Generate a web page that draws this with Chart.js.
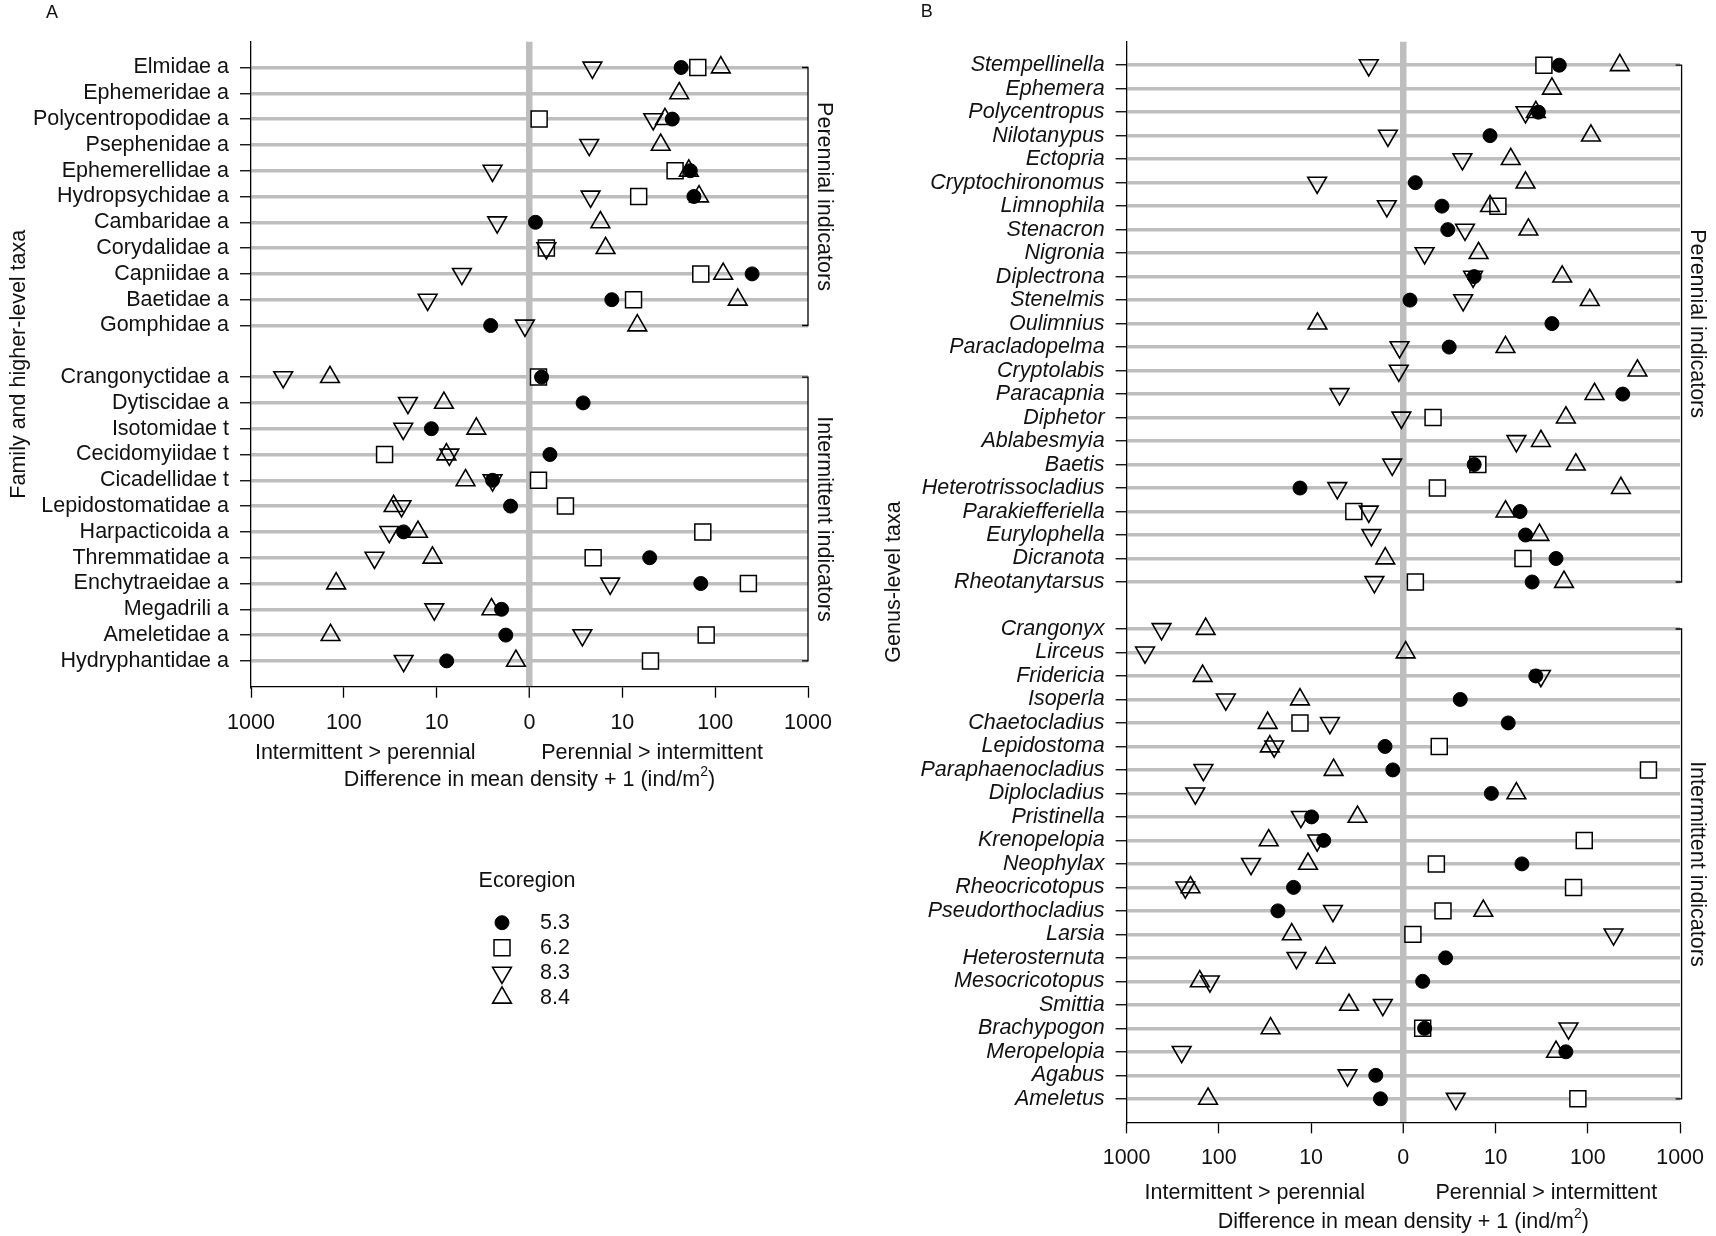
<!DOCTYPE html>
<html>
<head>
<meta charset="utf-8">
<script src="https://cdn.jsdelivr.net/npm/chart.js@4.4.1/dist/chart.umd.min.js"></script>
<style>
html,body{margin:0;padding:0;background:#fff;}
#wrap{position:relative;width:1716px;height:1236px;overflow:hidden;background:#fff;}
canvas{position:absolute;top:0;}
</style>
</head>
<body>
<div id="wrap">
<canvas id="cA" width="858" height="1236" style="left:0;width:858px;height:1236px"></canvas>
<canvas id="cB" width="858" height="1236" style="left:858px;width:858px;height:1236px"></canvas>
</div>
<script>
// ---------- DATA ----------
const xTickValues = [-3, -2, -1, 0, 1, 2, 3];
const xTickLabels = ['1000', '100', '10', '0', '10', '100', '1000'];
const ecoregions = ['5.3', '6.2', '8.3', '8.4'];

// Panel A: family and higher-level taxa ('' = gap row)
const famLabels = ['Elmidae a','Ephemeridae a','Polycentropodidae a','Psephenidae a','Ephemerellidae a',
  'Hydropsychidae a','Cambaridae a','Corydalidae a','Capniidae a','Baetidae a','Gomphidae a','',
  'Crangonyctidae a','Dytiscidae a','Isotomidae t','Cecidomyiidae t','Cicadellidae t','Lepidostomatidae a',
  'Harpacticoida a','Thremmatidae a','Enchytraeidae a','Megadrili a','Ameletidae a','Hydryphantidae a'];
// signed (difference in mean density + 1); negative = intermittent > perennial
const famEco53 = [43,null,34.5,null,54,59,1.16,null,250,7.7,-2.62,null,
  1.35,3.78,-11.4,1.66,-2.5,-1.6,-22.7,19.7,70,-2.0,-1.8,-7.8];
const famEco62 = [65,null,1.27,null,37,15,null,1.52,70,13.2,null,null,
  1.25,null,null,-36.4,1.25,2.44,73.6,4.85,228,null,80,20.1];
const famEco83 = [4.76,null,21.5,4.4,-2.5,4.55,-2.23,1.52,-5.35,-12.5,-1.12,null,
  -450,-20.4,-22.9,-7.3,-2.5,-23.9,-32.4,-46.7,7.4,-10.6,3.71,-22.7];
const famEco84 = [115,41,28.8,25.9,52,67,5.8,6.6,122,175,14.5,null,
  -141,-8.35,-3.74,-7.85,-4.89,-29.1,-15.9,-11.1,-121,-2.57,-139,-1.40];

// Panel B: genus-level taxa
const genLabels = ['Stempellinella','Ephemera','Polycentropus','Nilotanypus','Ectopria','Cryptochironomus',
  'Limnophila','Stenacron','Nigronia','Diplectrona','Stenelmis','Oulimnius','Paracladopelma','Cryptolabis',
  'Paracapnia','Diphetor','Ablabesmyia','Baetis','Heterotrissocladius','Parakiefferiella','Eurylophella',
  'Dicranota','Rheotanytarsus','',
  'Crangonyx','Lirceus','Fridericia','Isoperla','Chaetocladius','Lepidostoma','Paraphaenocladius',
  'Diplocladius','Pristinella','Krenopelopia','Neophylax','Rheocricotopus','Pseudorthocladius','Larsia',
  'Heterosternuta','Mesocricotopus','Smittia','Brachypogon','Meropelopia','Agabus','Ameletus'];
const genEco53 = [49,null,29.1,8.7,null,1.35,2.62,3.03,null,5.86,1.18,40.8,3.14,null,239,null,null,5.86,
  -13.2,18.4,21.1,45.2,24.9,null,
  null,null,27.3,4.14,13.7,-1.58,-1.30,9.0,-9.87,-7.3,19.3,-15.5,-22.9,null,2.87,1.62,null,1.70,57.8,-1.99,-1.77];
const genEco62 = [33.4,null,null,null,null,null,10.6,null,null,null,null,null,null,null,null,2.1,null,6.42,
  2.34,-3.44,null,19.8,1.35,null,
  null,null,null,null,-13.2,2.45,454,null,null,91.4,2.28,70,2.69,1.27,null,null,null,1.62,null,null,78];
const genEco83 = [-2.37,null,21.1,-1.47,4.37,-8.6,-1.51,4.66,1.70,5.7,4.45,null,-1.1,-1.12,-4.92,-1.05,16.8,-1.32,
  -5.2,-2.37,-2.22,null,-2.06,null,
  -418,-631,31,-84,-6.25,-25.1,-147,-180,-12.9,-8.6,-44.8,-231,-5.8,190,-14.4,-125,-1.67,61.7,-253,-4.03,3.7];
const genEco84 = [222,40.8,27.3,108,14.6,21.1,8.7,22.7,6.54,52.7,105,-8.53,12.8,345,118,57.8,31,74,
  228,12.8,29.9,-1.57,55.2,null,
  -139,1.06,-150,-13.2,-29.6,-28,-5.7,16.8,-3.14,-28.8,-10.8,-203,7.36,-16.2,-6.97,-161,-3.88,-27.5,45.2,null,-131];

// ---------- STYLE ----------
const FONT = '"Liberation Sans", Arial, Helvetica, sans-serif';
const GRAY = '#bebebe';
const INK = '#111';
const FS = 21.5;
const markerStyles = [
  {style:'circle',   r:7,    rot:0,   bg:'#000',             bw:1,   order:0},
  {style:'rect',     r:11.3, rot:0,   bg:'#fff',             bw:1.5, order:3},
  {style:'triangle', r:10.8, rot:180, bg:'rgba(0,0,0,0)',    bw:1.6, order:1},
  {style:'triangle', r:10.8, rot:0,   bg:'rgba(0,0,0,0)',    bw:1.6, order:2}
];

function tr(v){ return Math.sign(v) * Math.log10(Math.abs(v)); }

function buildDatasets(seriesList){
  return seriesList.map((series, k) => {
    const m = markerStyles[k];
    const pts = [];
    series.forEach((v, j) => { if (v !== null) pts.push({x: tr(v), y: j}); });
    return {label: ecoregions[k], data: pts, order: m.order, showLine: false,
      pointStyle: m.style, pointRadius: m.r, pointRotation: m.rot,
      pointBackgroundColor: m.bg, pointBorderColor: '#000', pointBorderWidth: m.bw};
  });
}

function drawMarker(ctx, k, x, y){
  const m = markerStyles[k];
  ctx.save();
  ctx.fillStyle = m.bg; ctx.strokeStyle = '#000'; ctx.lineWidth = m.bw;
  if (Chart.helpers && Chart.helpers.drawPoint) {
    Chart.helpers.drawPoint(ctx, {pointStyle: m.style, radius: m.r, rotation: m.rot, borderWidth: m.bw}, x, y);
  } else {
    ctx.beginPath(); ctx.arc(x, y, m.r, 0, Math.PI*2); ctx.fill(); ctx.stroke();
  }
  ctx.restore();
}

function makePanel(p){
  const n = p.labels.length;
  const extras = {
    id: 'extras' + p.letter,
    afterDraw(chart){
      const ctx = chart.ctx, ca = chart.chartArea;
      const xs = chart.scales.x, ys = chart.scales.y;
      ctx.save();
      ctx.fillStyle = INK; ctx.strokeStyle = '#000';
      // panel letter
      ctx.font = '18px ' + FONT; ctx.textAlign = 'center'; ctx.textBaseline = 'middle';
      ctx.fillText(p.letter, p.letterPos[0], p.letterPos[1]);
      // y title
      ctx.font = (p.italic ? '' : '') + FS + 'px ' + FONT;
      ctx.save(); ctx.translate(p.yTitleX, (ca.top + ca.bottom)/2); ctx.rotate(-Math.PI/2);
      ctx.fillText(p.yTitle, 0, 0); ctx.restore();
      // group brackets
      ctx.lineWidth = 1.3;
      p.groups.forEach(g => {
        const y1 = ys.getPixelForValue(g.from), y2 = ys.getPixelForValue(g.to);
        const bx = ca.right + p.bracketDx;
        ctx.beginPath(); ctx.moveTo(bx - 6, y1); ctx.lineTo(bx, y1); ctx.lineTo(bx, y2); ctx.lineTo(bx - 6, y2); ctx.stroke();
        ctx.save(); ctx.translate(bx + 15.5, (y1 + y2)/2); ctx.rotate(Math.PI/2);
        ctx.textAlign = 'center'; ctx.textBaseline = 'middle';
        ctx.fillText(g.text, 0, 0); ctx.restore();
      });
      // direction notes & axis title
      ctx.textAlign = 'center'; ctx.textBaseline = 'middle';
      ctx.fillText('Intermittent > perennial', xs.getPixelForValue(p.sideL), ca.bottom + p.sideY);
      ctx.fillText('Perennial > intermittent', xs.getPixelForValue(p.sideR), ca.bottom + p.sideY);
      const t1 = 'Difference in mean density + 1 (ind/m', t3 = ')';
      ctx.font = FS + 'px ' + FONT;
      const w1 = ctx.measureText(t1).width, w3 = ctx.measureText(t3).width;
      ctx.font = '14px ' + FONT; const w2 = ctx.measureText('2').width;
      let sx = xs.getPixelForValue(0) - (w1 + w2 + w3)/2;
      const ty = ca.bottom + p.titleY;
      ctx.textAlign = 'left';
      ctx.font = FS + 'px ' + FONT; ctx.fillText(t1, sx, ty);
      ctx.font = '14px ' + FONT; ctx.fillText('2', sx + w1, ty - 8);
      ctx.font = FS + 'px ' + FONT; ctx.fillText(t3, sx + w1 + w2, ty);
      // legend
      if (p.legend) {
        ctx.textAlign = 'center'; ctx.fillText('Ecoregion', p.legend.titleX, p.legend.titleY);
        ctx.textAlign = 'left';
        ecoregions.forEach((e, k) => {
          const yy = p.legend.y0 + k * p.legend.dy;
          drawMarker(ctx, k, p.legend.symX, yy);
          ctx.fillStyle = INK; ctx.fillText(e, p.legend.textX, yy);
        });
      }
      ctx.restore();
    }
  };

  return new Chart(document.getElementById(p.canvas), {
    type: 'scatter',
    data: {datasets: buildDatasets(p.series)},
    options: {
      responsive: false, animation: false, events: [],
      layout: {padding: {left: 0, top: p.top, right: p.W - p.right, bottom: p.H - p.bottom - 60}},
      plugins: {legend: {display: false}, tooltip: {enabled: false}},
      scales: {
        x: {
          type: 'linear', min: -3, max: 3,
          afterBuildTicks: s => { s.ticks = xTickValues.map(v => ({value: v})); },
          afterFit: s => { s.height = 60; },
          ticks: {autoSkip: false, maxRotation: 0, padding: p.xTickPad, color: INK,
            font: {family: FONT, size: FS}, callback: (v, i) => xTickLabels[i]},
          grid: {
            color: c => (c.tick && c.tick.value === 0) ? GRAY : 'rgba(0,0,0,0)',
            lineWidth: c => (c.tick && c.tick.value === 0) ? 6.5 : 1,
            tickColor: '#000', tickWidth: 1.3, tickLength: 11, drawTicks: true
          },
          border: {display: true, color: '#000', width: 1.3}
        },
        y: {
          type: 'linear', reverse: true, min: -1, max: n,
          afterBuildTicks: s => {
            const t = [];
            p.labels.forEach((l, i) => { if (l !== '') t.push({value: i}); });
            s.ticks = t;
          },
          afterFit: s => { s.width = p.yW; },
          ticks: {autoSkip: false, padding: 11, color: INK,
            font: {family: FONT, size: FS, style: p.italic ? 'italic' : 'normal', lineHeight: 1},
            callback: v => p.labels[v]},
          grid: {color: GRAY, lineWidth: 3.5, tickColor: '#000', tickWidth: 1.3, tickLength: 11, drawTicks: true},
          border: {display: true, color: '#000', width: 1.3}
        }
      }
    },
    plugins: [extras]
  });
}

makePanel({canvas: 'cA', letter: 'A', letterPos: [52, 13], labels: famLabels,
  series: [famEco53, famEco62, famEco83, famEco84], italic: false,
  W: 858, H: 1236, yW: 251, right: 808, top: 41.7, bottom: 686.7, xTickPad: 12, bracketDx: 0,
  yTitle: 'Family and higher-level taxa', yTitleX: 18.6,
  groups: [{text: 'Perennial indicators', from: 0, to: 10}, {text: 'Intermittent indicators', from: 12, to: 23}],
  sideL: -1.77, sideR: 1.32, sideY: 66.3, titleY: 93.3,
  legend: {titleX: 527, titleY: 881, symX: 502, textX: 540, y0: 922.7, dy: 25}});

makePanel({canvas: 'cB', letter: 'B', letterPos: [68.7, 11.7], labels: genLabels,
  series: [genEco53, genEco62, genEco83, genEco84], italic: true,
  W: 858, H: 1236, yW: 268.6, right: 827.3, top: 41.7, bottom: 1122.3, xTickPad: 12, bracketDx: 1.5,
  yTitle: 'Genus-level taxa', yTitleX: 36,
  groups: [{text: 'Perennial indicators', from: 0, to: 22}, {text: 'Intermittent indicators', from: 24, to: 44}],
  sideL: -1.61, sideR: 1.55, sideY: 70.7, titleY: 99.4, legend: null});
</script>
</body>
</html>
